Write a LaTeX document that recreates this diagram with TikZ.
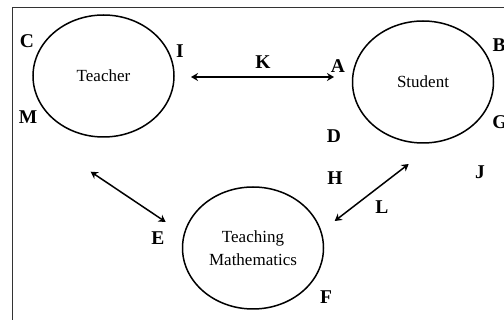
\documentclass[tikz,border=0pt]{standalone}
\usepackage{fontspec}
\setmainfont{Liberation Serif}
\usetikzlibrary{positioning,arrows.meta,shapes.geometric}
\tikzset{
  circ/.style={ellipse,draw,line width=1.5pt,minimum width=141pt,minimum height=122pt,
    inner sep=0pt,align=center,font=\fontsize{17}{23}\selectfont},
  lbl/.style={font=\fontsize{19.5}{22}\selectfont\bfseries,inner sep=0pt},
  link/.style={{Stealth[length=7pt,width=8pt]}-{Stealth[length=7pt,width=8pt]},line width=1.5pt},
  frm/.style={line width=0.8pt,black!80},
}
\begin{document}
\begin{tikzpicture}[x=1pt,y=-1pt]
  \useasboundingbox (0,0) rectangle (504,320);
  \draw[frm] (12,7) rectangle (530,340);
  % the three circles
  \node[circ] (teacher) at (103.5,76) {Teacher};
  \node[circ] (student) at (423,82) {Student};
  \node[circ] (teachmath) at (253,248) {Teaching\\Mathematics};
  % arrow ends
  \coordinate (k1) at (191,77);
  \coordinate (k2) at (334,77);
  \coordinate (e1) at (90.7,171.7);
  \coordinate (e2) at (165.7,222);
  \coordinate (l1) at (334.7,221);
  \coordinate (l2) at (408.7,164);
  \draw[link] (k1) -- (k2);
  \draw[link] (e1) -- (e2);
  \draw[link] (l1) -- (l2);
  % letters
  \node[lbl] (lC) at (27,41) {C};
  \node[lbl] (lI) at (180,51) {I};
  \node[lbl] (lM) at (28,117) {M};
  \node[lbl] (lK) at (263,62) {K};
  \node[lbl] (lA) at (338,66) {A};
  \node[lbl] (lB) at (499,45) {B};
  \node[lbl] (lG) at (500,122) {G};
  \node[lbl] (lD) at (334,136) {D};
  \node[lbl] (lH) at (335,178) {H};
  \node[lbl] (lJ) at (480,172) {J};
  \node[lbl] (lL) at (382,207) {L};
  \node[lbl] (lE) at (158,238) {E};
  \node[lbl] (lF) at (326,297) {F};
\end{tikzpicture}
\end{document}
